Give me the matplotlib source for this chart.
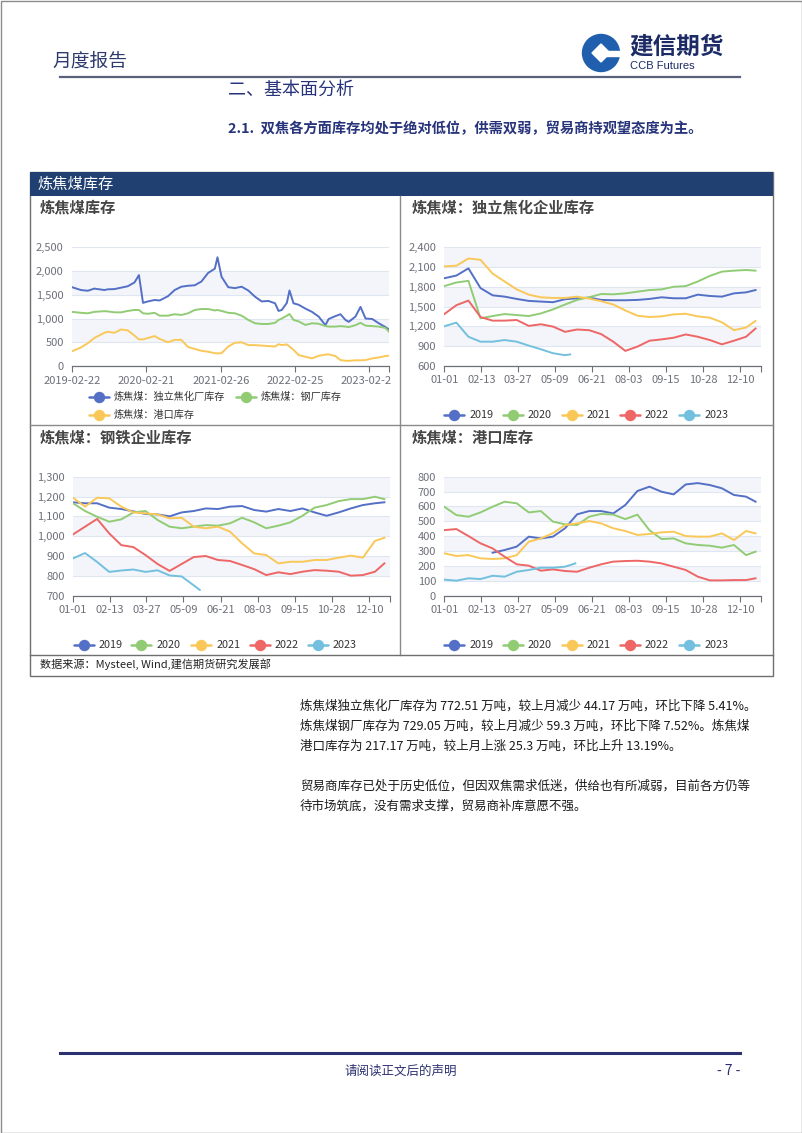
import numpy as np
import pandas as pd
import matplotlib
matplotlib.use("Agg")
import matplotlib.pyplot as plt
from matplotlib.patches import Rectangle, Circle, Polygon
from matplotlib.transforms import Bbox

plt.rcParams['font.family'] = ['Noto Sans CJK SC', 'DejaVu Sans']

W, H = 802, 1133

# ---------------- data (万吨) ----------------
TOTAL_DATES = [
    '2019-02-22', '2019-04-07', '2019-05-11', '2019-06-12', '2019-08-01', '2019-08-17',
    '2019-09-19', '2019-10-22', '2019-11-24', '2019-12-27', '2020-01-18', '2020-02-07',
    '2020-03-02', '2020-04-04', '2020-04-29', '2020-06-09', '2020-07-12', '2020-08-14',
    '2020-09-16', '2020-10-19', '2020-11-21', '2020-12-24', '2021-01-26', '2021-02-08',
    '2021-02-28', '2021-04-02', '2021-05-05', '2021-06-07', '2021-07-10', '2021-08-12',
    '2021-09-14', '2021-10-17', '2021-11-19', '2021-12-06', '2021-12-22', '2022-01-16',
    '2022-01-29', '2022-02-18', '2022-03-15', '2022-04-17', '2022-05-20', '2022-06-22',
    '2022-07-25', '2022-08-10', '2022-09-12', '2022-10-07', '2022-11-01', '2022-11-17',
    '2022-12-20', '2023-01-14', '2023-02-08', '2023-03-13', '2023-04-14', '2023-05-17',
    '2023-06-02']
TOTAL_COKING = [
    1660, 1600, 1585, 1630, 1600, 1615, 1620, 1650, 1680, 1760, 1915, 1330,
    1360, 1390, 1380, 1470, 1600, 1670, 1690, 1700, 1780, 1960, 2050, 2290,
    1880, 1660, 1640, 1670, 1590, 1460, 1360, 1370, 1320, 1160, 1180, 1330,
    1590, 1320, 1290, 1210, 1140, 1040, 860, 990, 1050, 1090, 970, 930,
    1040, 1245, 1000, 990, 900, 820, 773]
TOTAL_STEEL = [
    1140, 1120, 1110, 1140, 1155, 1150, 1130, 1130, 1160, 1180, 1180, 1110,
    1100, 1120, 1060, 1060, 1090, 1075, 1110, 1180, 1200, 1200, 1170, 1180,
    1160, 1120, 1110, 1060, 970, 900, 885, 885, 910, 970, 1000, 1060,
    1095, 970, 940, 865, 900, 890, 840, 830, 830, 840, 830, 820,
    860, 910, 850, 840, 830, 800, 729]
TOTAL_PORT = [
    310, 390, 480, 590, 700, 720, 700, 770, 750, 640, 560, 560,
    590, 630, 570, 500, 550, 550, 400, 360, 320, 300, 270, 265,
    270, 410, 490, 500, 440, 440, 430, 420, 410, 460, 440, 455,
    410, 340, 230, 195, 160, 215, 240, 245, 210, 125, 110, 110,
    120, 120, 125, 160, 180, 210, 217]
TOTAL_LABELS = ['炼焦煤：独立焦化厂库存', '炼焦煤：钢厂库存', '炼焦煤：港口库存']
TOTAL_TICKS = ['2019-02-22', '2020-02-21', '2021-02-26', '2022-02-25', '2023-02-24']

YEARS = ['2019', '2020', '2021', '2022', '2023']
SEASON_TICKS = ['01-01', '02-13', '03-27', '05-09', '06-21', '08-03', '09-15', '10-28', '12-10']
# day of year of each reading
DAYS = [0, 14, 28, 42, 56, 70, 84, 98, 112, 126, 140, 154, 168, 182, 196, 210,
        224, 238, 252, 266, 280, 294, 308, 322, 336, 350, 361]
DAYS_2023_COKE = [0, 14, 28, 42, 56, 70, 84, 98, 112, 126, 140, 146]
DAYS_2023_STEEL = [0, 14, 28, 42, 56, 70, 84, 98, 112, 126, 140, 147]
DAYS_2023_PORT = [0, 14, 28, 42, 56, 70, 84, 98, 112, 126, 140, 152]

COKE_2019 = [1930, 1970, 2080, 1780, 1670, 1650, 1615, 1585, 1575, 1565, 1610, 1625, 1635, 1600,
             1595, 1595, 1600, 1615, 1640, 1625, 1625, 1680, 1660, 1650, 1700, 1715, 1750]
COKE_2020 = [1810, 1865, 1890, 1320, 1355, 1385, 1370, 1355, 1395, 1455, 1530, 1600, 1640, 1690,
             1685, 1700, 1725, 1750, 1760, 1800, 1810, 1880, 1965, 2030, 2045, 2055, 2045]
COKE_2021 = [2110, 2120, 2230, 2210, 2000, 1880, 1760, 1680, 1640, 1630, 1630, 1650, 1620, 1580,
             1530, 1440, 1360, 1340, 1350, 1380, 1390, 1350, 1330, 1260, 1140, 1180, 1280]
COKE_2022 = [1385, 1520, 1590, 1340, 1285, 1285, 1295, 1205, 1230, 1195, 1115, 1150, 1140, 1080,
             965, 825, 890, 980, 1000, 1025, 1075, 1040, 990, 925, 980, 1040, 1165]
COKE_2023 = [1200, 1255, 1040, 965, 965, 990, 965, 905, 850, 790, 760, 772]

STEEL_2019 = [1171, 1166, 1166, 1144, 1137, 1125, 1112, 1110, 1100, 1120, 1127, 1140, 1137, 1149,
              1152, 1132, 1124, 1137, 1127, 1140, 1120, 1103, 1120, 1140, 1157, 1166, 1171]
STEEL_2020 = [1166, 1127, 1098, 1073, 1085, 1120, 1127, 1082, 1048, 1040, 1048, 1056, 1053, 1065,
              1093, 1070, 1040, 1053, 1070, 1103, 1144, 1157, 1177, 1187, 1187, 1199, 1187]
STEEL_2021 = [1194, 1149, 1194, 1191, 1149, 1120, 1115, 1110, 1090, 1093, 1048, 1040, 1048, 1023,
              964, 913, 905, 863, 871, 871, 880, 880, 892, 902, 892, 976, 992]
STEEL_2022 = [1009, 1048, 1087, 1014, 955, 945, 905, 860, 825, 860, 895, 900, 880, 875,
              855, 834, 804, 818, 809, 821, 829, 826, 821, 801, 804, 821, 863]
STEEL_2023 = [888, 915, 870, 820, 827, 832, 820, 828, 802, 797, 752, 729]

PORT_2019 = [np.nan, np.nan, np.nan, np.nan, 289, 307, 330, 397, 385, 397, 453, 547, 569, 569,
             553, 610, 704, 733, 699, 681, 748, 757, 744, 722, 677, 666, 632]
PORT_2020 = [598, 542, 531, 560, 598, 632, 621, 560, 569, 498, 480, 475, 531, 550,
             545, 515, 545, 440, 381, 385, 352, 341, 336, 323, 341, 273, 296]
PORT_2021 = [285, 267, 273, 251, 247, 251, 273, 363, 385, 420, 475, 486, 502, 486,
             453, 435, 408, 415, 426, 430, 401, 397, 397, 419, 374, 435, 419]
PORT_2022 = [441, 448, 401, 352, 318, 262, 211, 202, 168, 177, 166, 161, 188, 211,
             229, 233, 235, 229, 217, 195, 173, 128, 103, 103, 105, 105, 117]
PORT_2023 = [108, 101, 117, 112, 134, 128, 161, 173, 188, 188, 195, 217]

YEAR_COLORS = ['#5470c6', '#91cc75', '#fac858', '#ee6666', '#73c0de']
AXIS = '#6e7079'
GRID = '#e0e6f1'
BAND = '#f3f5fa'

fig = plt.figure(figsize=(W / 100, H / 100), dpi=100)
bg = fig.add_axes([0, 0, 1, 1])
bg.set_xlim(0, W)
bg.set_ylim(H, 0)
bg.axis('off')


def frac(x0, y0, x1, y1):
    return [x0 / W, 1 - y1 / H, (x1 - x0) / W, (y1 - y0) / H]


def style_axes(ax, ymin, ymax, step):
    ax.set_ylim(ymin, ymax)
    ticks = np.arange(ymin, ymax + step / 2, step)
    ax.set_yticks(ticks)
    ax.set_yticklabels([f'{int(t):,}' for t in ticks])
    for i in range(len(ticks) - 1):
        if i % 2 == 1:
            ax.axhspan(ticks[i], ticks[i + 1], color=BAND, lw=0, zorder=0)
    ax.grid(axis='y', color=GRID, lw=0.8, zorder=1)
    ax.set_axisbelow(True)
    for s in ['top', 'right', 'left']:
        ax.spines[s].set_visible(False)
    ax.spines['bottom'].set_color(AXIS)
    ax.spines['bottom'].set_linewidth(0.9)
    ax.tick_params(axis='y', length=0, pad=6, labelsize=8, labelcolor=AXIS)
    ax.tick_params(axis='x', which='both', length=4, width=0.8, color=AXIS, pad=3,
                   labelsize=8, labelcolor=AXIS)
    ax.patch.set_alpha(0)


def legend_item(cx, cy, color, text, tx, size=7.8):
    bg.plot([cx - 10, cx + 10], [cy, cy], color=color, lw=1.8, solid_capstyle='round')
    bg.plot([cx], [cy], 'o', ms=7.2, color=color)
    bg.text(tx, cy, text, fontsize=size, color='#333333', va='center', ha='left')


# ---------------- page frame / header ----------------
bg.add_patch(Rectangle((0.5, 0.5), W - 1, H - 1, fill=False, ec='#8c8c8c', lw=1))
bg.text(52, 61, '月度报告', fontsize=13.5, color='#2e3a6e', va='center', ha='left')
bg.add_patch(Circle((601, 53), 18.5, color='#1f5fae'))
bg.add_patch(Polygon([(601, 44), (610, 53), (601, 62), (592, 53)], closed=True, color='white'))
bg.add_patch(Rectangle((605, 50.5), 16, 5, color='white'))
bg.text(629, 47, '建信期货', fontsize=17, fontweight='bold', color='#1c2b66', va='center')
bg.text(630, 66, 'CCB Futures', fontsize=8, color='#1c2b66', va='center',
        family=['Liberation Sans', 'DejaVu Sans'])
bg.plot([60, 740], [77, 77], color='#59627a', lw=1.6)

bg.text(228, 90, '二、基本面分析', fontsize=13, color='#27337a', va='center')
bg.text(228, 129, '2.1.  双焦各方面库存均处于绝对低位，供需双弱，贸易商持观望态度为主。',
        fontsize=10.3, fontweight='bold', color='#27337a', va='center')

# ---------------- chart panel ----------------
bg.add_patch(Rectangle((30, 172), 743, 504, fill=False, ec='#6f6f6f', lw=1))
bg.add_patch(Rectangle((30, 172), 743, 24, fc='#1f4070', ec='none'))
bg.text(38, 184.5, '炼焦煤库存', color='white', fontsize=11, va='center')
bg.plot([399.5, 399.5], [196, 655], color='#8a8a8a', lw=1)
bg.plot([30, 773], [425, 425], color='#8a8a8a', lw=1)
bg.plot([30, 773], [655, 655], color='#6f6f6f', lw=1)
bg.text(40, 664.5, '数据来源：Mysteel, Wind,建信期货研究发展部', fontsize=8, color='#222222',
        va='center', style='italic')

for (tx, ty, title) in [(40, 207, '炼焦煤库存'), (412, 207, '炼焦煤：独立焦化企业库存'),
                        (40, 437.5, '炼焦煤：钢铁企业库存'), (412, 437.5, '炼焦煤：港口库存')]:
    bg.text(tx, ty, title, fontsize=11, fontweight='bold', color='#464646', va='center')

# chart 1: total inventory time series
ax1 = fig.add_axes(frac(72, 247.3, 388.7, 366))
style_axes(ax1, 0, 2500, 500)
dates = pd.to_datetime(TOTAL_DATES)
for vals, color in zip([TOTAL_COKING, TOTAL_STEEL, TOTAL_PORT], YEAR_COLORS[:3]):
    ax1.plot(dates, vals, color=color, lw=1.4, zorder=3, solid_joinstyle='round')
ax1.set_xlim(pd.Timestamp('2019-02-22'), pd.Timestamp('2023-06-02'))
ax1.set_xticks(pd.to_datetime(TOTAL_TICKS))
ax1.set_xticklabels(TOTAL_TICKS)
ax1.set_xticks([pd.Timestamp('2023-06-02')], minor=True)
clip = Bbox.from_extents(0, 0, 391, H)
for t in ax1.xaxis.get_major_ticks():
    t.label1.set_clip_box(clip)
    t.label1.set_clip_on(True)

legend_item(98.7, 396.7, YEAR_COLORS[0], TOTAL_LABELS[0], 114, 7.3)
legend_item(245.7, 396.7, YEAR_COLORS[1], TOTAL_LABELS[1], 260.7, 7.3)
legend_item(98.7, 415, YEAR_COLORS[2], TOTAL_LABELS[2], 114, 7.3)

# seasonal charts
season_pos = [pd.Timestamp('2019-' + s).dayofyear - 1 for s in SEASON_TICKS]


def seasonal(rect, ymin, ymax, step, series):
    ax = fig.add_axes(frac(*rect))
    style_axes(ax, ymin, ymax, step)
    for (days, vals), color in zip(series, YEAR_COLORS):
        ax.plot(days, vals, color=color, lw=1.4, zorder=3, solid_joinstyle='round')
    ax.set_xlim(0, 367)
    ax.set_xticks(season_pos)
    ax.set_xticklabels(SEASON_TICKS)
    ax.set_xticks([367], minor=True)
    return ax


seasonal((444.3, 247.3, 760.7, 365.7), 600, 2400, 300,
         [(DAYS, COKE_2019), (DAYS, COKE_2020), (DAYS, COKE_2021), (DAYS, COKE_2022),
          (DAYS_2023_COKE, COKE_2023)])
seasonal((73, 476.7, 389.6, 595.7), 700, 1300, 100,
         [(DAYS, STEEL_2019), (DAYS, STEEL_2020), (DAYS, STEEL_2021), (DAYS, STEEL_2022),
          (DAYS_2023_STEEL, STEEL_2023)])
seasonal((444.3, 476.7, 760.7, 595.7), 0, 800, 100,
         [(DAYS, PORT_2019), (DAYS, PORT_2020), (DAYS, PORT_2021), (DAYS, PORT_2022),
          (DAYS_2023_PORT, PORT_2023)])

for cxs, cy in [([454.3, 512.7, 571.7, 630, 689.3], 415),
                ([83.7, 141.3, 201.3, 259.7, 318], 645),
                ([454.3, 512.7, 571.7, 630, 689.3], 645)]:
    for cx, color, yr in zip(cxs, YEAR_COLORS, YEARS):
        legend_item(cx, cy, color, yr, cx + 15)

# ---------------- body text ----------------
body = [
    (706, '炼焦煤独立焦化厂库存为 772.51 万吨，较上月减少 44.17 万吨，环比下降 5.41%。'),
    (726, '炼焦煤钢厂库存为 729.05 万吨，较上月减少 59.3 万吨，环比下降 7.52%。炼焦煤'),
    (746, '港口库存为 217.17 万吨，较上月上涨 25.3 万吨，环比上升 13.19%。'),
    (786, '贸易商库存已处于历史低位，但因双焦需求低迷，供给也有所减弱，目前各方仍等'),
    (806, '待市场筑底，没有需求支撑，贸易商补库意愿不强。'),
]
for y, line in body:
    bg.text(300, y, line, fontsize=9, color='#1a1a1a', va='center', ha='left')

# ---------------- footer ----------------
bg.plot([60, 740], [1053, 1053], color='#2b3070', lw=2.2)
bg.text(401, 1071, '请阅读正文后的声明', fontsize=9, color='#2b3070', va='center', ha='center')
bg.text(740, 1071, '- 7 -', fontsize=10, color='#2b3070', va='center', ha='right')

fig.savefig('out.png', dpi=100)
